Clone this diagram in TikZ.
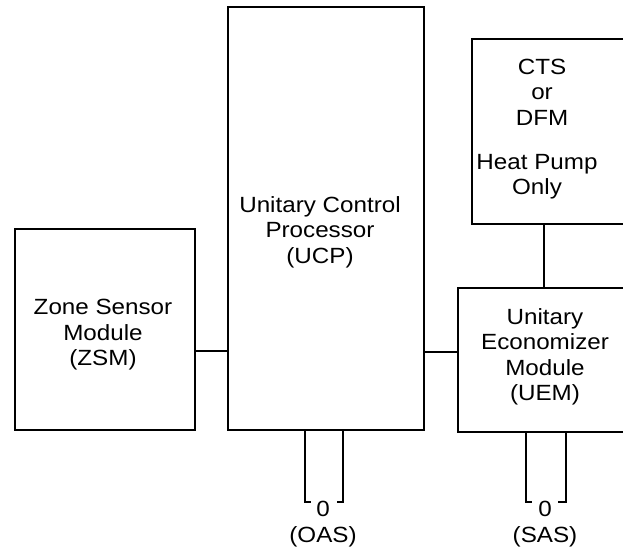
\documentclass[tikz,border=0pt]{standalone}
\usepackage{fontspec}
\setmainfont{Liberation Sans}[FakeStretch=1.1]
\begin{document}
\begin{tikzpicture}[x=1pt,y=-1pt, line width=1.1pt,
  box/.style={draw, rectangle, inner sep=0pt},
  txt/.style={align=center, font=\fontsize{22}{25.5}\selectfont, inner sep=0pt},
  wire/.style={draw, line width=1.1pt}]
\useasboundingbox (0,0) rectangle (623,548);
\clip (0,0) rectangle (623,548);
% boxes
\node[box, minimum width=180pt, minimum height=201pt] (zsm) at (105,329.5) {};
\node[box, minimum width=196pt, minimum height=423pt] (ucp) at (326,218.5) {};
\node[box, minimum width=168pt, minimum height=185pt] (cts) at (556,131.5) {};
\node[box, minimum width=182pt, minimum height=144pt] (uem) at (549,360) {};
% texts
\node[txt] (zsmt) at (103,335) {Zone Sensor\\Module\\(ZSM)};
\node[txt] (ucpt) at (320,232) {Unitary Control\\Processor\\(UCP)};
\node[txt] (ctst) at (542,92) {CTS\\or\\DFM};
\node[txt] (hpt) at (537,176.5) {Heat Pump\\Only};
\node[txt] (uemt) at (545,357) {Unitary\\Economizer\\Module\\(UEM)};
% connectors
\coordinate (yl) at (0,351);
\coordinate (yr) at (0,352);
\coordinate (xc) at (544,0);
\draw[wire] (zsm.east |- yl) -- (ucp.west |- yl);
\draw[wire] (ucp.east |- yr) -- (uem.west |- yr);
\draw[wire] (cts.south -| xc) -- (uem.north -| xc);
% sensors
\node[txt] (oas0) at (323,509) {0};
\node[txt] (oas) at (323,537) {(OAS)};
\node[txt] (sas0) at (545,509) {0};
\node[txt] (sas) at (545,537) {(SAS)};
\coordinate (oasL) at (305,502);
\coordinate (oasR) at (343,502);
\coordinate (sasL) at (526,502);
\coordinate (sasR) at (566,502);
\draw[wire] (ucp.south -| oasL) -- (oasL) -- ++(6,0);
\draw[wire] (ucp.south -| oasR) -- (oasR) -- ++(-6,0);
\draw[wire] (uem.south -| sasL) -- (sasL) -- ++(6,0);
\draw[wire] (uem.south -| sasR) -- (sasR) -- ++(-8,0);
\end{tikzpicture}
\end{document}
